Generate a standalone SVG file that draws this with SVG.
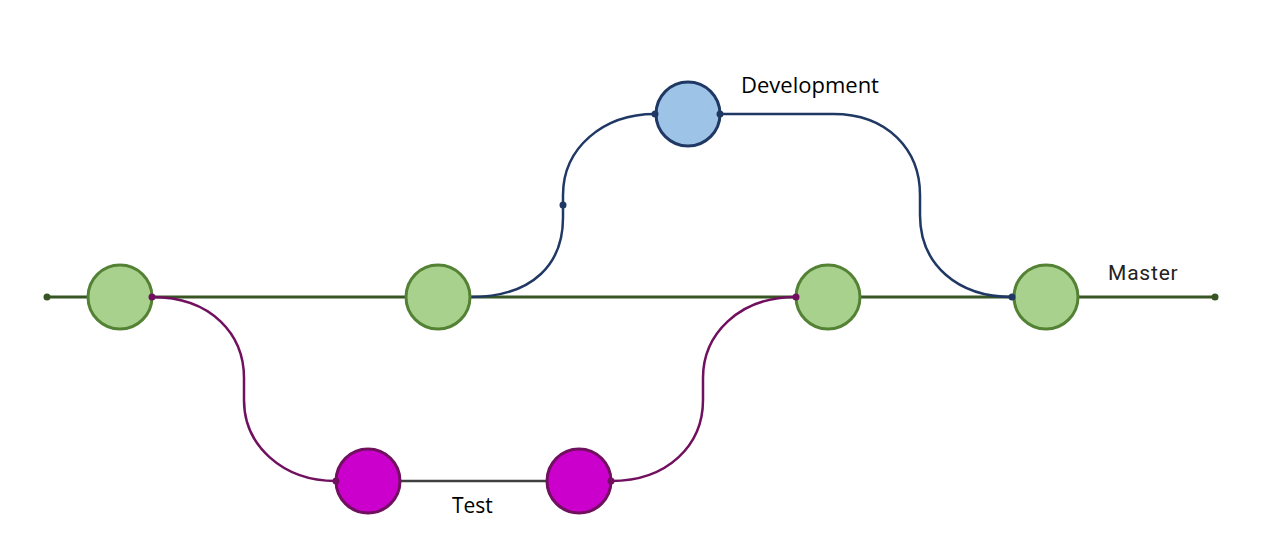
<svg xmlns="http://www.w3.org/2000/svg" width="1264" height="560" viewBox="0 0 1264 560">
<style>
.master{stroke:#375623;stroke-width:3;fill:none}
.dev{stroke:#203864;stroke-width:2.5;fill:none}
.test{stroke:#70105F;stroke-width:2.5;fill:none}
.gray{stroke:#404040;stroke-width:2.5;fill:none}
.gnode{fill:#A9D18E;stroke:#548235;stroke-width:3}
.bnode{fill:#9DC3E6;stroke:#203864;stroke-width:3}
.mnode{fill:#CC00CC;stroke:#70105F;stroke-width:3}
.dm{fill:#375623}.dd{fill:#203864}.dt{fill:#70105F}
.lbl{font-family:"Open Sans","Noto Sans",sans-serif;font-size:21px;fill:#000}
.lbld{font-family:"Open Sans","Noto Sans",sans-serif;font-size:22px;fill:#000}
.lblm{font-family:Roboto,"Liberation Sans",sans-serif;font-size:21px;fill:#222;letter-spacing:0.8px}
</style>
<rect width="1264" height="560" fill="#fff"/>
<g id="connectors">
<line class="master" x1="47" y1="297" x2="1215" y2="297"/>
<path class="dev" d="M470,297 C535,297 563,262 563,218 L563,195 C563,148 603,114 655,114"/>
<path class="dev" d="M720,114 L833,114 C888,114 920,150 920,195 L920,215 C920,265 958,297 1012,297"/>
<path class="test" d="M152,297 C212,297 244,335 244,378 L244,400 C244,445 282,481 336,481"/>
<path class="test" d="M611,481 C668,481 703,445 703,400 L703,378 C703,335 738,297 796,297"/>
<line class="gray" x1="400" y1="481" x2="547" y2="481"/>
<circle class="dm" cx="47" cy="297" r="3.5"/>
<circle class="dm" cx="1215" cy="297" r="3.5"/>
</g>
<g id="m1"><circle class="gnode" cx="120" cy="297" r="32"/></g>
<g id="m2"><circle class="gnode" cx="438" cy="297" r="32"/></g>
<g id="m3"><circle class="gnode" cx="828" cy="297" r="32"/></g>
<g id="m4"><circle class="gnode" cx="1046" cy="297" r="32"/></g>
<g id="d1"><circle class="bnode" cx="688" cy="114" r="32"/></g>
<g id="t1"><circle class="mnode" cx="368" cy="481" r="32"/></g>
<g id="t2"><circle class="mnode" cx="579" cy="481" r="32"/></g>
<g id="dots">
<circle class="dd" cx="563" cy="205" r="3.5"/>
<circle class="dd" cx="655" cy="114" r="3.5"/>
<circle class="dd" cx="720" cy="114" r="3.5"/>
<circle class="dd" cx="1012" cy="297" r="3.5"/>
<circle class="dt" cx="152" cy="297" r="3.5"/>
<circle class="dt" cx="336" cy="481" r="3.5"/>
<circle class="dt" cx="611" cy="481" r="3.5"/>
<circle class="dt" cx="796" cy="297" r="3.5"/>
</g>
<g id="labels">
<text class="lbld" x="741" y="93">Development</text>
<text class="lblm" x="1108" y="280">Master</text>
<text class="lbl" x="452" y="513">Test</text>
</g>
</svg>
